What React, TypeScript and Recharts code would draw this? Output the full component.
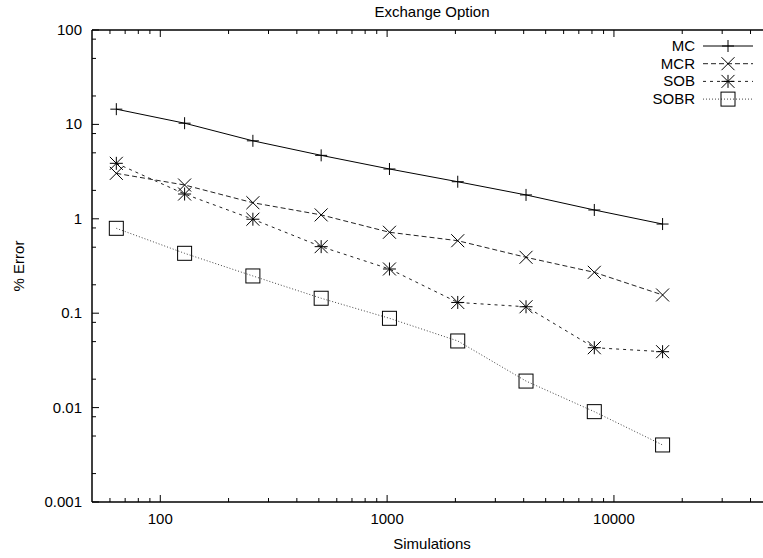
import React from "react";
import { LineChart, Line, XAxis, YAxis } from "recharts";

// simulations (x) and % error for each method
const sims = [64, 128, 256, 512, 1024, 2048, 4096, 8192, 16384];
const mc = [14.5, 10.3, 6.7, 4.7, 3.37, 2.47, 1.79, 1.24, 0.88];
const mcr = [3.03, 2.28, 1.48, 1.1, 0.72, 0.586, 0.391, 0.271, 0.156];
const sob = [3.87, 1.83, 0.99, 0.507, 0.294, 0.13, 0.117, 0.0431, 0.0391];
const sobr = [0.793, 0.431, 0.248, 0.144, 0.0883, 0.0508, 0.0191, 0.00906, 0.00402];

const xMajor = [100, 1000, 10000];
const xMinor = [
  60, 70, 80, 90, 200, 300, 400, 500, 600, 700, 800, 900, 2000, 3000, 4000,
  5000, 6000, 7000, 8000, 9000, 20000, 30000, 40000,
];
const yMajor = [0.001, 0.01, 0.1, 1, 10, 100];
const yMinor = [0.002, 0.005, 0.008, 0.02, 0.05, 0.08, 0.2, 0.5, 0.8, 2, 5, 8, 20, 50, 80];

const data = sims.map((s, i) => ({
  sims: s,
  MC: mc[i],
  MCR: mcr[i],
  SOB: sob[i],
  SOBR: sobr[i],
}));

const FONT = "'Liberation Sans', Arial, Helvetica, sans-serif";
const FS = 15;

type Marker = "plus" | "cross" | "star" | "square";

function MarkerShape({ cx, cy, kind }: { cx: number; cy: number; kind: Marker }) {
  const r = 6.5;
  const s = { stroke: "#000", strokeWidth: 1, fill: "none" };
  if (kind === "plus") {
    return (
      <g>
        <line x1={cx - 6} x2={cx + 6} y1={cy} y2={cy} {...s} />
        <line x1={cx} x2={cx} y1={cy - 6} y2={cy + 6} {...s} />
      </g>
    );
  }
  if (kind === "cross") {
    return (
      <g>
        <line x1={cx - r} x2={cx + r} y1={cy - r} y2={cy + r} {...s} />
        <line x1={cx - r} x2={cx + r} y1={cy + r} y2={cy - r} {...s} />
      </g>
    );
  }
  if (kind === "star") {
    return (
      <g>
        <line x1={cx - r} x2={cx + r} y1={cy - r} y2={cy + r} {...s} />
        <line x1={cx - r} x2={cx + r} y1={cy + r} y2={cy - r} {...s} />
        <line x1={cx - r} x2={cx + r} y1={cy} y2={cy} {...s} />
        <line x1={cx} x2={cx} y1={cy - r} y2={cy + r} {...s} />
      </g>
    );
  }
  return <rect x={cx - 7} y={cy - 7} width={14} height={14} {...s} />;
}

const series: { key: string; marker: Marker; dash?: string; color: string }[] = [
  { key: "MC", marker: "plus", color: "#000" },
  { key: "MCR", marker: "cross", dash: "5 3", color: "#222" },
  { key: "SOB", marker: "star", dash: "3 4", color: "#222" },
  { key: "SOBR", marker: "square", dash: "1 2", color: "#444" },
];

function BottomTick(props: any) {
  const { x, y, payload } = props;
  const major = xMajor.includes(payload.value);
  return (
    <g>
      <line x1={x} x2={x} y1={y} y2={y - (major ? 7 : 4)} stroke="#000" />
      {major && (
        <text x={x} y={y + 22} textAnchor="middle" fontFamily={FONT} fontSize={FS} fill="#000">
          {payload.value}
        </text>
      )}
    </g>
  );
}

function TopTick(props: any) {
  const { x, y, payload } = props;
  const major = xMajor.includes(payload.value);
  return <line x1={x} x2={x} y1={y} y2={y + (major ? 7 : 4)} stroke="#000" />;
}

function LeftTick(props: any) {
  const { x, y, payload } = props;
  const major = yMajor.includes(payload.value);
  return (
    <g>
      <line x1={x} x2={x + (major ? 7 : 4)} y1={y} y2={y} stroke="#000" />
      {major && (
        <text x={x - 10} y={y + 5} textAnchor="end" fontFamily={FONT} fontSize={FS} fill="#000">
          {String(payload.value)}
        </text>
      )}
    </g>
  );
}

function LegendBox() {
  return (
    <svg
      width={763}
      height={558}
      style={{ position: "absolute", left: 0, top: 0, pointerEvents: "none" }}
    >
      {series.map((s, i) => {
        const y = 46 + i * 17.7;
        return (
          <g key={s.key}>
            <text x={695} y={y + 5} textAnchor="end" fontFamily={FONT} fontSize={FS} fill="#000">
              {s.key}
            </text>
            <line x1={703} x2={753} y1={y} y2={y} stroke={s.color} strokeDasharray={s.dash} />
            <MarkerShape cx={728} cy={y} kind={s.marker} />
          </g>
        );
      })}
    </svg>
  );
}

export default function App() {
  return (
    <div
      style={{
        position: "absolute",
        left: 0,
        top: 0,
        width: 763,
        height: 558,
        overflow: "hidden",
        background: "#fff",
        fontFamily: FONT,
      }}
    >
      <div
        style={{
          position: "absolute",
          left: 0,
          top: 0,
          width: 864,
          textAlign: "center",
          fontSize: FS,
          lineHeight: "24px",
          color: "#000",
        }}
      >
        Exchange Option
      </div>
      <div
        style={{
          position: "absolute",
          left: 0,
          top: 532,
          width: 864,
          textAlign: "center",
          fontSize: FS,
          lineHeight: "24px",
          color: "#000",
        }}
      >
        Simulations
      </div>
      <div
        style={{
          position: "absolute",
          left: 18,
          top: 266,
          transform: "translate(-50%, -50%) rotate(-90deg)",
          fontSize: FS,
          whiteSpace: "nowrap",
          color: "#000",
        }}
      >
        % Error
      </div>
      <LineChart
        width={800}
        height={558}
        data={data}
        margin={{ top: 0, right: 27.5, bottom: 0, left: 32 }}
        style={{ position: "absolute", left: 0, top: 0 }}
      >
        <XAxis
          xAxisId="b"
          dataKey="sims"
          type="number"
          scale="log"
          domain={[50, 50000]}
          allowDataOverflow
          ticks={[...xMajor, ...xMinor]}
          interval={0}
          height={56}
          tickSize={0}
          tickMargin={0}
          tickLine={false}
          tick={<BottomTick />}
          axisLine={{ stroke: "#000", strokeWidth: 1.5 }}
        />
        <XAxis
          xAxisId="t"
          orientation="top"
          dataKey="sims"
          type="number"
          scale="log"
          domain={[50, 50000]}
          allowDataOverflow
          ticks={[...xMajor, ...xMinor]}
          interval={0}
          height={30}
          tickSize={0}
          tickMargin={0}
          tickLine={false}
          tick={<TopTick />}
          axisLine={{ stroke: "#000", strokeWidth: 1.5 }}
        />
        <YAxis
          type="number"
          scale="log"
          domain={[0.001, 100]}
          allowDataOverflow
          ticks={[...yMajor, ...yMinor]}
          interval={0}
          width={60}
          tickSize={0}
          tickMargin={0}
          tickLine={false}
          tick={<LeftTick />}
          axisLine={{ stroke: "#000", strokeWidth: 1.5 }}
        />
        {series.map((s) => (
          <Line
            key={s.key}
            xAxisId="b"
            dataKey={s.key}
            stroke={s.color}
            strokeWidth={1}
            strokeDasharray={s.dash}
            isAnimationActive={false}
            dot={(p: any) => (
              <MarkerShape key={`${s.key}-${p.index}`} cx={p.cx} cy={p.cy} kind={s.marker} />
            )}
            activeDot={false}
          />
        ))}
      </LineChart>
      <LegendBox />
    </div>
  );
}
